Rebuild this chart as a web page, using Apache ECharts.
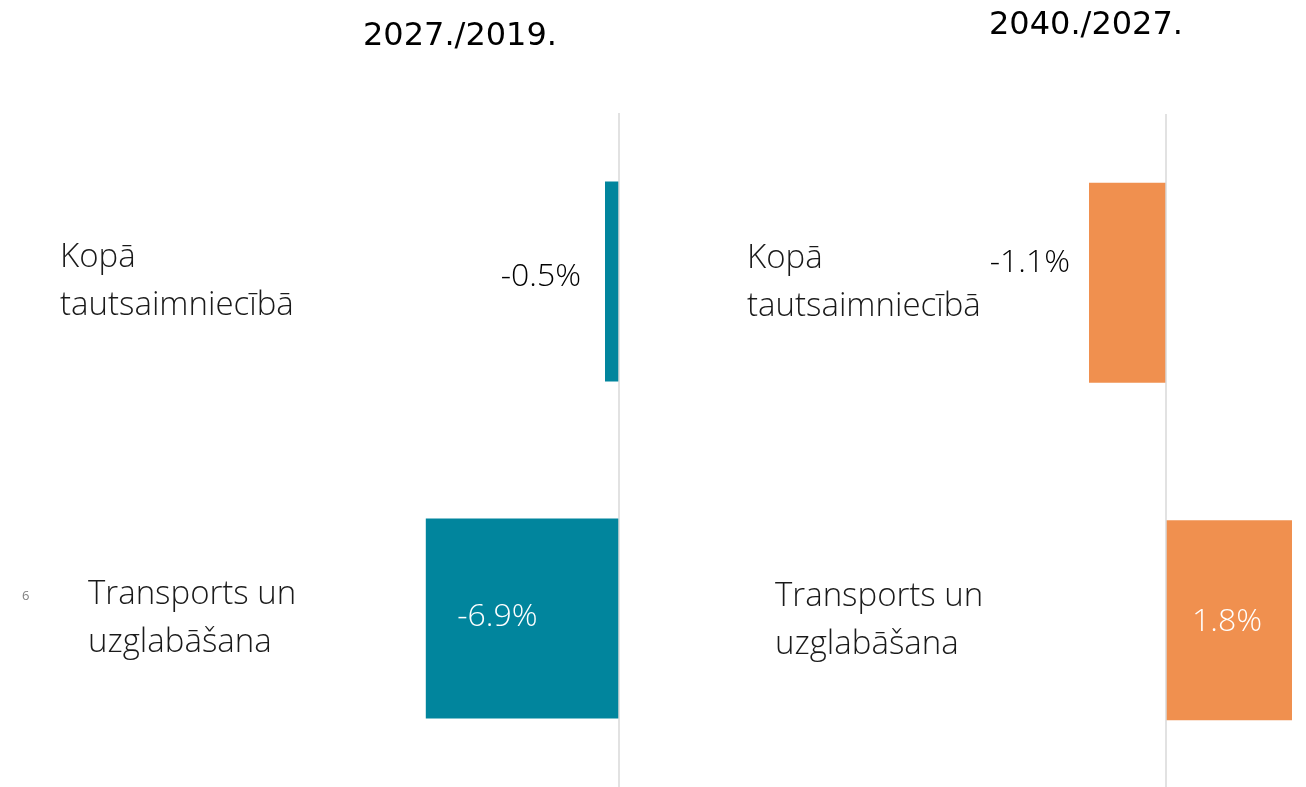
<!DOCTYPE html>
<html>
<head>
<meta charset="utf-8">
<script src="https://cdn.jsdelivr.net/npm/echarts@6/dist/echarts.min.js"></script>
<style>
  html, body { margin: 0; padding: 0; background: #fff; }
  #chart { width: 1306px; height: 787px; }
</style>
</head>
<body>
<div id="chart"></div>
<script>
// data
const categories = ['Kopā tautsaimniecībā', 'Transports un uzglabāšana']
const categoryLines = [['Kopā', 'tautsaimniecībā'], ['Transports un', 'uzglabāšana']]
const periodTitles = ['2027./2019.', '2040./2027.']
const change2019to2027 = [-0.5, -6.9]
const change2027to2040 = [-1.1, 1.8]

const TEAL = '#01859d'
const ORANGE = '#f0904f'
const FONT = '"Open Sans", "Segoe UI", sans-serif'

const chart = echarts.init(document.getElementById('chart'))

function pct(v) {
  return v.toFixed(1) + '%'
}

const labelRich = {
  a: { fontFamily: FONT, fontWeight: 300, fontSize: 33, lineHeight: 48, color: '#1a1a1a' },
  b: { fontFamily: FONT, fontWeight: 300, fontSize: 33, lineHeight: 48, color: '#1a1a1a', padding: [0, 0, 0, 28] },
}

// labels sit inside the grid, measured from its left edge
function categoryAxis(gridIndex, margin) {
  return {
    type: 'category',
    gridIndex: gridIndex,
    data: categories,
    inverse: true,
    axisLine: { show: false, onZero: false },
    axisTick: { show: false },
    axisLabel: {
      interval: 0,
      inside: true,
      align: 'left',
      margin: margin,
      formatter: function (value, idx) {
        const key = idx === 0 ? 'a' : 'b'
        return categoryLines[idx].map(function (l) { return '{' + key + '|' + l + '}' }).join('\n')
      },
      rich: labelRich,
    },
    splitLine: { show: false },
  }
}

function valueLabel(color, position, offset, distance) {
  return {
    show: true,
    position: position,
    offset: offset,
    distance: distance || 5,
    color: color,
    fontFamily: FONT,
    fontWeight: 300,
    fontSize: 32,
    formatter: function (p) { return pct(p.value) },
  }
}

const zeroLine = {
  silent: true,
  symbol: ['none', 'none'],
  label: { show: false },
  lineStyle: { color: '#d9d9d9', width: 1.5, type: 'solid' },
  data: [{ xAxis: 0 }],
}

const leftLabels = [
  valueLabel('#000', 'left', [0, -5], 24),
  valueLabel('#fff', 'inside', [-25, -2]),
]
const rightLabels = [
  valueLabel('#000', 'left', [0, -20], 19),
  valueLabel('#fff', 'inside', [-2, 2]),
]

chart.setOption({
  animation: false,
  title: [
    {
      text: periodTitles[0],
      left: 363,
      top: 21,
      padding: 0,
      textStyle: { fontFamily: 'DejaVu Sans', fontWeight: 'normal', fontSize: 32, color: '#000' },
    },
    {
      text: periodTitles[1],
      left: 989,
      top: 10,
      padding: 0,
      textStyle: { fontFamily: 'DejaVu Sans', fontWeight: 'normal', fontSize: 32, color: '#000' },
    },
  ],
  graphic: [
    {
      type: 'text',
      left: 22,
      top: 590,
      style: { text: '6', fontFamily: FONT, fontSize: 13, fill: '#7f7f7f' },
    },
  ],
  grid: [
    { left: 3, right: 687, top: 113, bottom: 0, containLabel: false, outerBoundsMode: 'none' },
    { left: 676, right: 0, top: 114, bottom: -2, containLabel: false, outerBoundsMode: 'none' },
  ],
  xAxis: [
    { type: 'value', gridIndex: 0, min: -22, max: 0, show: false },
    { type: 'value', gridIndex: 1, min: -7, max: 2, show: false },
  ],
  yAxis: [categoryAxis(0, 57), categoryAxis(1, 71)],
  series: [
    {
      type: 'bar',
      name: periodTitles[0],
      xAxisIndex: 0,
      yAxisIndex: 0,
      barWidth: 200,
      itemStyle: { color: TEAL },
      data: change2019to2027.map(function (v, i) { return { value: v, label: leftLabels[i] } }),
      markLine: zeroLine,
    },
    {
      type: 'bar',
      name: periodTitles[1],
      xAxisIndex: 1,
      yAxisIndex: 1,
      barWidth: 200,
      itemStyle: { color: ORANGE },
      data: change2027to2040.map(function (v, i) { return { value: v, label: rightLabels[i] } }),
      markLine: zeroLine,
    },
  ],
})
</script>
</body>
</html>
